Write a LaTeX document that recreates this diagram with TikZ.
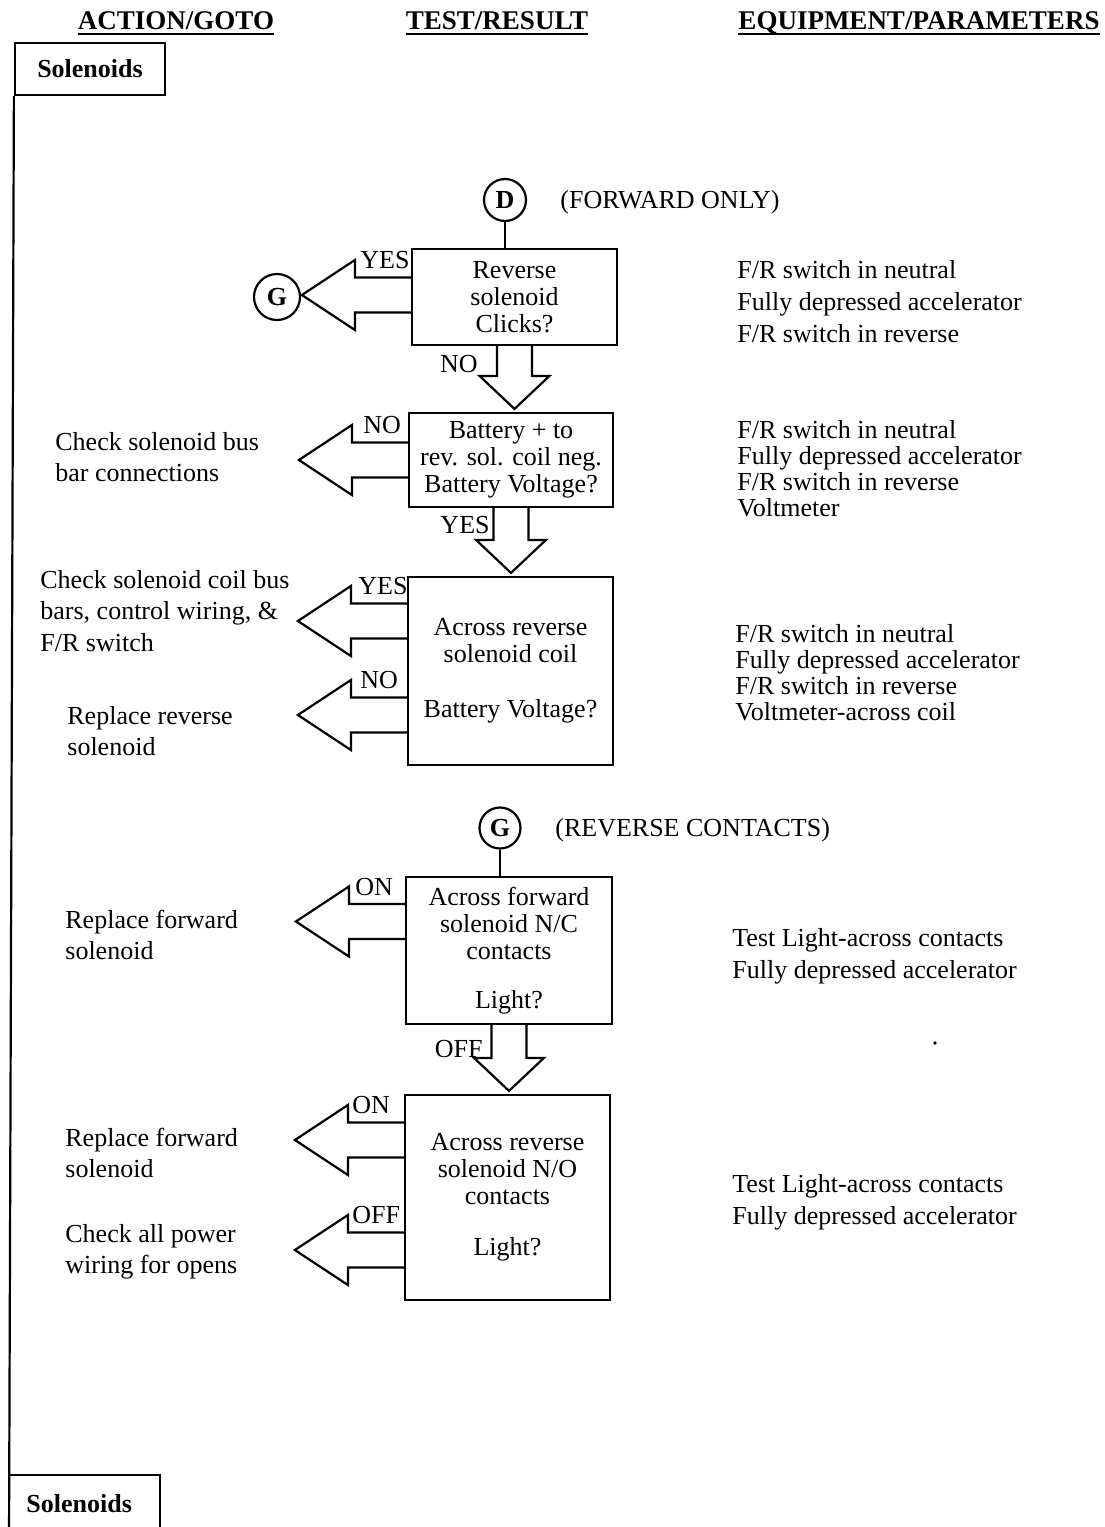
\documentclass[tikz,border=0pt]{standalone}
\usepackage{fontspec}
\setmainfont{Liberation Serif}
\usetikzlibrary{calc}
\newcommand\TL[1]{\begin{tabular}[t]{@{}l@{}}#1\end{tabular}}
\newcommand\LArrow[2]{\draw[blk] ($(#1.west)+(0,#2-17.5)$) -- ++(-56,0) -- ++(0,-17.5) -- ++(-53,35) -- ++(53,35) -- ++(0,-17.5) -- ++(56,0);}
\newcommand\DArrow[2]{\draw[blk] let \p1=(#1.south), \p2=(#2.north) in (\x1-8.75pt,\y1) -- (\x1-8.75pt,\y2+18pt) -- (\x1-17.5pt,\y2+18pt) -- (\x1,\y2+1.5pt) -- (\x1+17.5pt,\y2+18pt) -- (\x1+8.75pt,\y2+18pt) -- (\x1+8.75pt,\y1);}
\tikzset{
  blk/.style={draw, line width=1.1pt, line join=miter},
  box/.style={draw, line width=1.1pt, align=center, inner sep=0pt, font={\fontsize{13}{13.5}\selectfont}},
  circ/.style={draw, circle, line width=1.1pt, inner sep=0pt, font={\fontsize{13}{13}\selectfont\bfseries}},
  hdr/.style={inner sep=0pt, anchor=base, font={\fontsize{13.5}{13.5}\selectfont\bfseries}},
  lbl/.style={inner sep=0pt, anchor=base west, font={\fontsize{13}{13}\selectfont}},
  lble/.style={inner sep=0pt, anchor=base east, font={\fontsize{13}{13}\selectfont}},
  txtw/.style={inner sep=0pt, anchor=base west, font={\fontsize{13}{16}\selectfont}},
  txtl/.style={inner sep=0pt, anchor=base west, font={\fontsize{13}{15.75}\selectfont}},
  txtn/.style={inner sep=0pt, anchor=base west, font={\fontsize{13}{13}\selectfont}},
  sol/.style={draw, line width=1.1pt, inner sep=0pt, font={\fontsize{13}{13}\selectfont\bfseries}},
}
\begin{document}
\begin{tikzpicture}[x=0.5pt, y=-0.5pt]
\useasboundingbox (0,0) rectangle (1104,1527);

% headers
\node[hdr] (h1) at (176,29) {ACTION/GOTO};
\node[hdr] (h2) at (497,29) {TEST/RESULT};
\node[hdr] (h3) at (919,29) {EQUIPMENT/PARAMETERS};
\foreach \h in {h1,h2,h3}
  \draw[line width=0.9pt] ($(\h.base west)+(0,5)$) -- ($(\h.base east)+(0,5)$);

% solenoid boxes and left rail
\node[sol, minimum width=75pt, minimum height=26pt] (sol1) at (90,69) {Solenoids};
\node[inner sep=0pt, anchor=base west, font={\fontsize{13}{13}\selectfont\bfseries}] (sol2) at (26,1512) {Solenoids};
\coordinate (railend) at (9,1545);
\coordinate (bl) at (9,1475);
\coordinate (br) at (160,1475);
\coordinate (brend) at (160,1545);
\draw[line width=1.1pt] (sol1.south west) -- (railend);
\draw[line width=1.1pt] (bl) -- (br) -- (brend);

% connectors circles
\node[circ, minimum size=21pt] (D) at (505,200) {D};
\node[lbl] (fwd) at (560,208) {(FORWARD ONLY)};
\node[circ, minimum size=23pt] (G1) at (277,297) {G};
\node[circ, minimum size=20.5pt] (G2) at (500,828) {G};
\node[lbl] (rev) at (555,836) {(REVERSE CONTACTS)};

% decision boxes
\node[box, minimum width=102.5pt, minimum height=48pt] (b1) at (514.5,297) {Reverse\\solenoid\\Clicks?};
\node[box, minimum width=102pt, minimum height=47pt] (b2) at (511,460) {Battery + to\\rev. sol. coil neg.\\Battery Voltage?};
\node[box, minimum width=102.5pt, minimum height=94pt] (b3) at (510.5,671) {Across reverse\\solenoid coil\\[14pt]Battery Voltage?};
\node[box, minimum width=103pt, minimum height=73.5pt] (b4) at (509,950.5) {Across forward\\solenoid N/C\\contacts\\[11pt]Light?};
\node[box, minimum width=102.5pt, minimum height=102.5pt] (b5) at (507.5,1197.5) {Across reverse\\solenoid N/O\\contacts\\[12pt]Light?};

\draw[line width=1.1pt] (D.south) -- (D.south |- b1.north);
\draw[line width=1.1pt] (G2.south) -- (G2.south |- b4.north);

% block arrows
\LArrow{b1}{-2}
\LArrow{b2}{0}
\LArrow{b3}{-50}
\LArrow{b3}{44}
\LArrow{b4}{-29}
\LArrow{b5}{-57.5}
\LArrow{b5}{52.5}
\DArrow{b1}{b2}
\DArrow{b2}{b3}
\DArrow{b4}{b5}

% arrow labels
\node[lbl] (l1) at (360,268) {YES};
\node[lbl] (l2) at (363,433) {NO};
\node[lbl] (l3) at (358,594) {YES};
\node[lbl] (l4) at (360,688) {NO};
\node[lbl] (l5) at (355,895) {ON};
\node[lbl] (l6) at (352,1113) {ON};
\node[lbl] (l7) at (352,1223) {OFF};
\node[lble] (d1) at (478,372) {NO};
\node[lble] (d2) at (490,533) {YES};
\node[lble] (d3) at (483,1057) {OFF};

% left actions
\node[txtl] (a2) at (55,450) {\TL{Check solenoid bus\\bar connections}};
\node[txtl] (a3) at (40,588) {\TL{Check solenoid coil bus\\bars, control wiring, \&\\F/R switch}};
\node[txtl] (a4) at (67,724) {\TL{Replace reverse\\solenoid}};
\node[txtl] (a5) at (65,928) {\TL{Replace forward\\solenoid}};
\node[txtl] (a6) at (65,1146) {\TL{Replace forward\\solenoid}};
\node[txtl] (a7) at (65,1242) {\TL{Check all power\\wiring for opens}};

% right parameters
\node[txtw] (p1) at (737,278) {\TL{F/R switch in neutral\\Fully depressed accelerator\\F/R switch in reverse}};
\node[txtn] (p2) at (737,438) {\TL{F/R switch in neutral\\Fully depressed accelerator\\F/R switch in reverse\\Voltmeter}};
\node[txtn] (p3) at (735,642) {\TL{F/R switch in neutral\\Fully depressed accelerator\\F/R switch in reverse\\Voltmeter-across coil}};
\node[txtw] (p4) at (732,946) {\TL{Test Light-across contacts\\Fully depressed accelerator}};
\node[txtw] (p5) at (732,1192) {\TL{Test Light-across contacts\\Fully depressed accelerator}};

\fill (935,1043) circle (0.9pt);
\end{tikzpicture}
\end{document}
